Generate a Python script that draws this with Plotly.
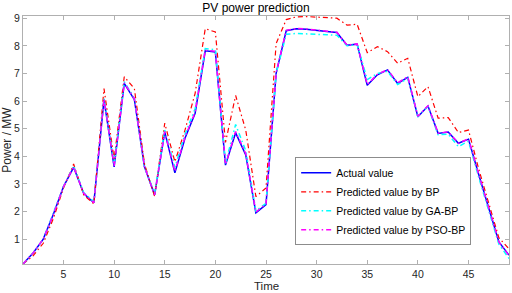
import plotly.graph_objects as go

time = list(range(1, 50))
actual = [0.1, 0.5, 1.0, 1.9, 2.9, 3.6, 2.65, 2.32, 6.05, 3.62,
          6.64, 6.05, 3.62, 2.6, 4.88, 3.4, 4.65, 5.56, 7.82, 7.78,
          3.68, 4.85, 4.05, 1.95, 2.25, 7.0, 8.55, 8.62, 8.6, 8.57,
          8.52, 8.48, 8.02, 8.06, 6.57, 6.95, 7.13, 6.64, 6.86, 5.43,
          5.82, 4.83, 4.88, 4.47, 4.62, 3.35, 2.1, 0.9, 0.42]
bp = [0.1, 0.4, 0.85, 1.75, 2.85, 3.72, 2.6, 2.28, 6.45, 3.9,
      6.88, 6.45, 3.72, 2.55, 5.2, 3.8, 4.95, 6.28, 8.62, 8.5,
      4.5, 6.2, 4.95, 2.54, 2.85, 8.08, 8.95, 9.05, 9.06, 9.04,
      9.02, 9.0, 8.75, 8.78, 7.75, 7.97, 7.79, 7.37, 7.55, 6.16,
      6.52, 5.38, 5.4, 4.86, 4.95, 3.55, 2.3, 1.05, 0.65]
ga = [0.1, 0.5, 1.0, 1.95, 2.9, 3.65, 2.68, 2.35, 6.1, 3.7,
      6.7, 6.1, 3.6, 2.65, 4.95, 3.6, 4.8, 5.72, 7.9, 7.86,
      3.75, 5.15, 4.2, 2.02, 2.3, 7.0, 8.42, 8.45, 8.44, 8.42,
      8.4, 8.38, 8.0, 8.05, 6.78, 7.0, 7.08, 6.6, 6.82, 5.45,
      5.8, 4.78, 4.8, 4.35, 4.55, 3.25, 2.0, 0.82, 0.3]
pso = [0.1, 0.5, 1.0, 1.9, 2.9, 3.62, 2.66, 2.32, 6.08, 3.65,
       6.66, 6.08, 3.62, 2.6, 4.9, 3.45, 4.7, 5.6, 7.84, 7.8,
       3.7, 4.9, 4.1, 1.98, 2.28, 7.02, 8.56, 8.63, 8.61, 8.58,
       8.53, 8.49, 8.03, 8.07, 6.6, 6.97, 7.14, 6.66, 6.88, 5.45,
       5.83, 4.84, 4.88, 4.48, 4.63, 3.35, 2.1, 0.9, 0.4]

x_ticks = [5, 10, 15, 20, 25, 30, 35, 40, 45]
y_ticks = [1, 2, 3, 4, 5, 6, 7, 8, 9]

font = "Liberation Sans, Arial, sans-serif"
dd = "5px,3px,1.5px,3px"

fig = go.Figure()
fig.add_trace(go.Scatter(x=time, y=actual, mode="lines", name="Actual value",
                         line=dict(color="#0000FF", width=1.5)))
fig.add_trace(go.Scatter(x=time, y=bp, mode="lines", name="Predicted value by BP",
                         line=dict(color="#FF0000", width=1.2, dash=dd)))
fig.add_trace(go.Scatter(x=time, y=ga, mode="lines", name="Predicted value by GA-BP",
                         line=dict(color="#00FFFF", width=1.5, dash=dd)))
fig.add_trace(go.Scatter(x=time, y=pso, mode="lines", name="Predicted value by PSO-BP",
                         line=dict(color="#FF00FF", width=1.5, dash=dd)))

axis_common = dict(showgrid=False, zeroline=False, showline=True, linecolor="#b0b0b0",
                   linewidth=1, mirror="ticks", ticks="inside", ticklen=4, automargin=False,
                   tickcolor="#b0b0b0", tickfont=dict(family=font, size=10.5, color="#262626"))

fig.update_xaxes(range=[1, 49], tickvals=x_ticks, ticklabelstandoff=0, **axis_common)
fig.update_yaxes(range=[0.1, 9.08], tickvals=y_ticks, ticklabelstandoff=0,
                 title=dict(text="Power / MW", font=dict(family=font, size=12, color="#262626"), standoff=5),
                 **axis_common)

fig.update_layout(
    width=512, height=293,
    margin=dict(l=23, r=3, t=16, b=29, autoexpand=False),
    paper_bgcolor="white", plot_bgcolor="white",
    title=dict(text="PV power prediction", x=0.5, xanchor="center",
               yref="container", y=0.972, yanchor="middle", pad=dict(t=0, b=0),
               font=dict(family=font, size=12, color="#000000")),
    legend=dict(x=0.56, y=0.43, xanchor="left", yanchor="top",
                bgcolor="white", bordercolor="#8c8c8c", borderwidth=1,
                font=dict(family=font, size=10.5, color="#000000"),
                itemwidth=30, tracegroupgap=0),
    showlegend=True,
    annotations=[dict(text="Time", xref="paper", yref="paper", x=0.5, y=-0.117,
                      xanchor="center", yanchor="bottom", showarrow=False, borderpad=0,
                      font=dict(family=font, size=11.5, color="#262626"))],
)

fig.write_html("out.html", config={"displayModeBar": False},
               post_script="document.body.style.margin='0';document.body.style.padding='0';")
